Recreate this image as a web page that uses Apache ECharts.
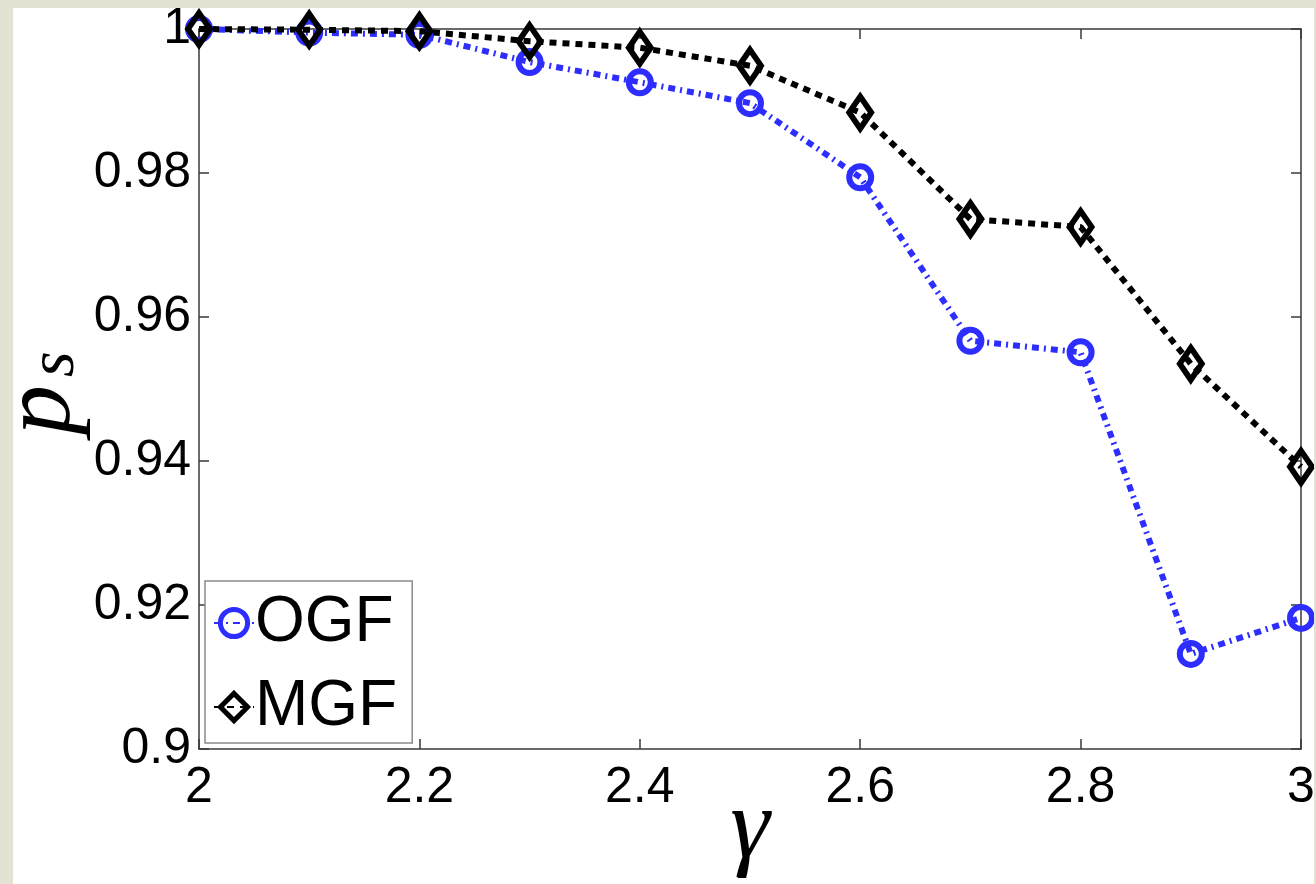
<!DOCTYPE html>
<html>
<head>
<meta charset="utf-8">
<script src="https://cdn.jsdelivr.net/npm/echarts@6/dist/echarts.min.js"></script>
<style>
  html, body { margin: 0; padding: 0; width: 1316px; height: 884px; overflow: hidden;
    background: #e3e3d3; }
  #chart { position: absolute; left: 13px; top: 8px; width: 1301px; height: 876px;
    background: #ffffff; }
</style>
</head>
<body>
<div id="chart"></div>
<script>
  /* p_s vs gamma, OGF vs MGF (MATLAB-style figure) */
  var gamma = [2.0, 2.1, 2.2, 2.3, 2.4, 2.5, 2.6, 2.7, 2.8, 2.9, 3.0];
  var ogf = [1.0, 0.9995, 0.9992, 0.9954, 0.9926, 0.9897, 0.9794, 0.9567, 0.9551, 0.9132, 0.9182];
  var mgf = [1.0, 0.9999, 0.9997, 0.9983, 0.9974, 0.9949, 0.9884, 0.9736, 0.9725, 0.9535, 0.9392];
  var xTicks = [2, 2.2, 2.4, 2.6, 2.8, 3];
  var yTicks = [0.9, 0.92, 0.94, 0.96, 0.98, 1];

  var BLUE = "#2d2dff";
  var AXIS = "#3a3a3a";
  var SANS = "'Liberation Sans', Arial, Helvetica, sans-serif";
  var SERIF = "'Liberation Serif', 'Times New Roman', serif";

  function step(t) { return Math.round((t[1] - t[0]) * 1000) / 1000; }
  function pairs(ys) { return gamma.map(function (g, i) { return [g, ys[i]]; }); }

  function xAxis(pos, show) {
    return {
      type: "value", position: pos, min: xTicks[0], max: xTicks[xTicks.length - 1],
      interval: step(xTicks),
      axisLine: { show: true, onZero: false, lineStyle: { color: AXIS, width: 1.5 } },
      axisTick: { show: true, inside: true, length: 10, lineStyle: { color: AXIS, width: 1.5 } },
      axisLabel: { show: show, fontSize: 50, color: "#000", fontFamily: SANS, margin: 14 },
      splitLine: { show: false },
      name: show ? "\u03b3" : "", nameLocation: "middle", nameGap: 32,
      nameMoveOverlap: false,
      nameTextStyle: { fontSize: 100, fontStyle: "italic", fontFamily: SERIF, color: "#000" }
    };
  }
  function yAxis(pos, show) {
    return {
      type: "value", position: pos, min: yTicks[0], max: yTicks[yTicks.length - 1],
      interval: step(yTicks),
      axisLine: { show: true, onZero: false, lineStyle: { color: AXIS, width: 1.5 } },
      axisTick: { show: true, inside: true, length: 10, lineStyle: { color: AXIS, width: 1.5 } },
      axisLabel: { show: show, fontSize: 50, color: "#000", fontFamily: SANS, margin: 8 },
      splitLine: { show: false }
    };
  }

  var chart = echarts.init(document.getElementById("chart"), null, { renderer: "canvas" });
  chart.setOption({
    animation: false,
    backgroundColor: "#ffffff",
    grid: { left: 186, top: 21, width: 1102, height: 720, outerBoundsMode: "none",
            containLabel: false },
    xAxis: [xAxis("bottom", true), xAxis("top", false)],
    yAxis: [yAxis("left", true), yAxis("right", false)],
    legend: {
      left: 192, top: 573, orient: "vertical",
      padding: [10, 15, 4, 8], itemGap: 20, itemWidth: 40, itemHeight: 34,
      backgroundColor: "#ffffff", borderColor: "#8a8a8a", borderWidth: 1.5,
      itemStyle: { borderWidth: 5 },
      lineStyle: { width: 2 },
      textStyle: { fontSize: 64, color: "#000", fontFamily: SANS, padding: [0, 0, 0, -4] },
      data: ["OGF", "MGF"]
    },
    graphic: [{
      type: "group", x: -20, y: 427, rotation: Math.PI / 2,
      children: [
        { type: "text", x: 0, y: 0,
          style: { text: "p", fill: "#000", font: "italic 100px " + SERIF } },
        { type: "text", x: 58, y: 30,
          style: { text: "s", fill: "#000", font: "italic 66px " + SERIF } }
      ]
    }],
    series: [{
      name: "OGF", type: "line", data: pairs(ogf),
      symbol: "circle", symbolSize: 22,
      itemStyle: { color: "rgba(255,255,255,0)", borderColor: BLUE, borderWidth: 6 },
      lineStyle: { color: BLUE, width: 6, type: [7, 5, 2, 5] }
    }, {
      name: "MGF", type: "line", data: pairs(mgf),
      symbol: "diamond", symbolSize: [22, 32],
      itemStyle: { color: "rgba(255,255,255,0)", borderColor: "#000", borderWidth: 6 },
      lineStyle: { color: "#000", width: 6, type: [7, 6] }
    }]
  });
</script>
</body>
</html>
